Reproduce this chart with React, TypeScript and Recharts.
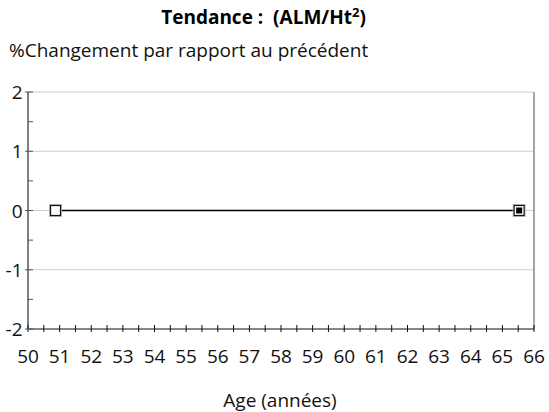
import React from 'react';
import { LineChart, Line, XAxis, YAxis, ReferenceLine } from 'recharts';

const ages = [50.87, 65.53];
const changes = [0, 0];
const xTicks = [50, 50.5, 51, 51.5, 52, 52.5, 53, 53.5, 54, 54.5, 55, 55.5, 56, 56.5, 57, 57.5, 58, 58.5, 59, 59.5, 60, 60.5, 61, 61.5, 62, 62.5, 63, 63.5, 64, 64.5, 65, 65.5, 66];
const yTicks = [-2, -1.5, -1, -0.5, 0, 0.5, 1, 1.5, 2];
const gridValues = [-1, 0, 1, 2];

const data = ages.map((a, i) => ({ age: a, v: changes[i] }));

const FONT = '"Open Sans", "Noto Sans", sans-serif';

const YTick = (props: any) => {
  const { x, y, payload } = props;
  const ax = x + 6;
  const major = Number.isInteger(payload.value);
  return (
    <g>
      <line x1={major ? ax - 3 : ax} x2={ax + 5} y1={y} y2={y} stroke="#555" strokeWidth={1} />
      {major && (
        <text x={x + 0.5} y={y + 7} textAnchor="end" fontSize={19} fontFamily={FONT} fill="#111">
          {payload.value}
        </text>
      )}
    </g>
  );
};

const XTick = (props: any) => {
  const { x, y, payload } = props;
  const ay = y - 20;
  const major = Number.isInteger(payload.value);
  return (
    <g>
      <line x1={x} x2={x} y1={ay - 4} y2={ay + 3} stroke="#111" strokeWidth={1} />
      {major && (
        <text x={x} y={ay + 34} textAnchor="middle" fontSize={19} fontFamily={FONT} fill="#111">
          {payload.value}
        </text>
      )}
    </g>
  );
};

const Dot = (props: any) => {
  const { cx, cy, index } = props;
  if (cx == null || cy == null) return null;
  return (
    <g key={`d${index}`}>
      <rect x={cx - 6} y={cy - 6} width={12} height={12} fill="none" stroke="#bbb" strokeWidth={1} />
      <rect x={cx - 5} y={cy - 5} width={10} height={10} fill="#fff" stroke="#111" strokeWidth={1.2} />
      {index === ages.length - 1 && <rect x={cx - 3} y={cy - 3} width={6} height={6} fill="#000" />}
    </g>
  );
};

export default function App() {
  return (
    <div style={{ position: 'absolute', left: 0, top: 0, width: 549, height: 412, background: '#fff', fontFamily: FONT, overflow: 'hidden' }}>
      <div style={{ position: 'absolute', left: 0, width: 527, top: 4, textAlign: 'center', fontWeight: 'bold', fontSize: 19, color: '#000', lineHeight: '26px', whiteSpace: 'nowrap' }}>
        Tendance :&nbsp; (ALM/Ht<sup style={{ fontSize: 13, verticalAlign: 'super', lineHeight: 0 }}>2</sup>)
      </div>
      <div style={{ position: 'absolute', left: 9, top: 37, fontSize: 19, color: '#111', lineHeight: '26px', whiteSpace: 'nowrap' }}>
        %Changement par rapport au précédent
      </div>
      <LineChart width={549} height={412} data={data} margin={{ top: 92, right: 15, bottom: 0, left: 8 }}>
        {gridValues.map((g) => (
          <ReferenceLine key={g} y={g} stroke="#cfcfcf" strokeWidth={1} />
        ))}
        <ReferenceLine x={66} stroke="#888" strokeWidth={1.5} />
        <XAxis
          dataKey="age"
          type="number"
          domain={[50, 66]}
          ticks={xTicks}
          interval={0}
          tickSize={0}
          tickMargin={20}
          tick={<XTick />}
          axisLine={{ stroke: '#111', strokeWidth: 1.2 }}
          tickLine={false}
          height={83}
        />
        <YAxis
          type="number"
          domain={[-2, 2]}
          ticks={yTicks}
          interval={0}
          width={20}
          tickSize={0}
          tickMargin={6}
          tick={<YTick />}
          axisLine={{ stroke: '#555', strokeWidth: 1.5 }}
          tickLine={false}
        />
        <Line dataKey="v" stroke="#000" strokeWidth={1.3} dot={<Dot />} isAnimationActive={false} />
      </LineChart>
      <div style={{ position: 'absolute', left: 0, width: 560, top: 389, textAlign: 'center', fontSize: 19, color: '#111', lineHeight: '22px', whiteSpace: 'nowrap' }}>
        Age (années)
      </div>
    </div>
  );
}
